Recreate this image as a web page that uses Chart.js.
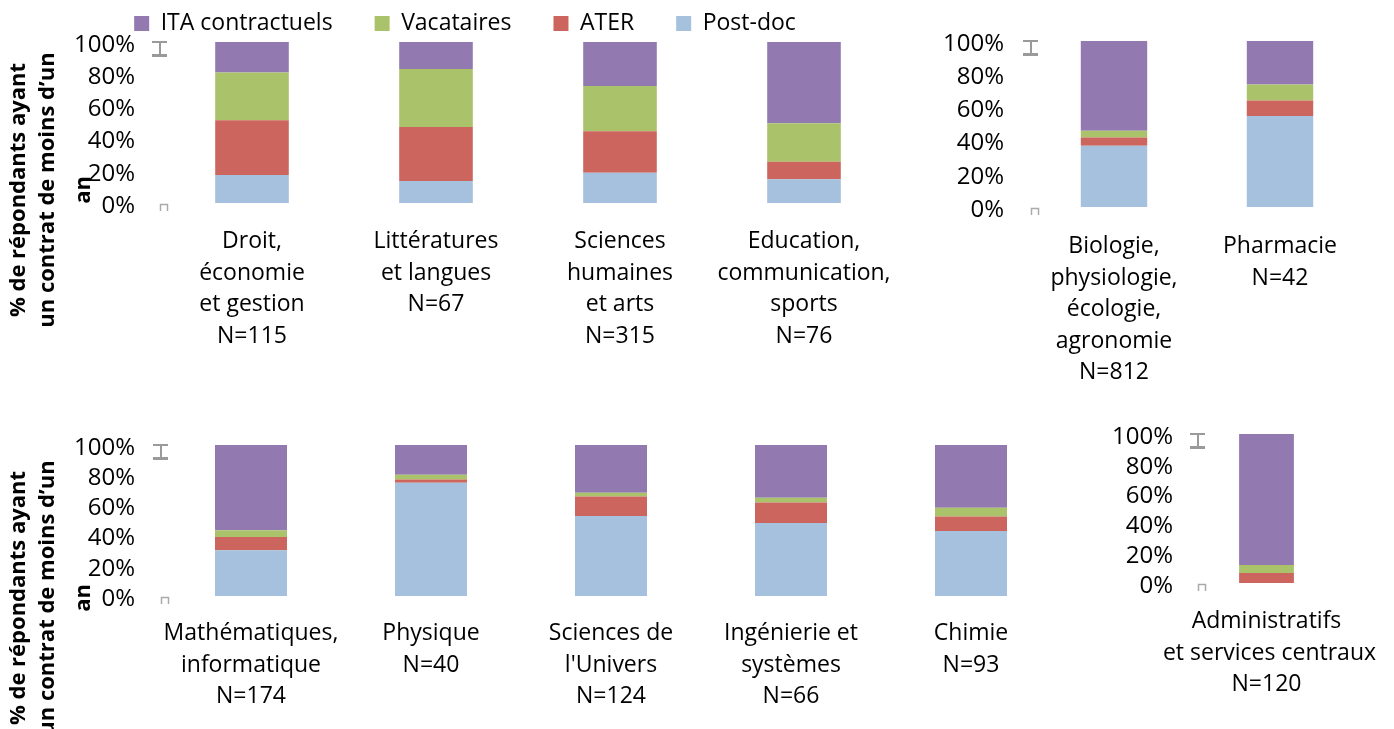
<!DOCTYPE html>
<html>
<head>
<meta charset="utf-8">
<script src="https://cdn.jsdelivr.net/npm/chart.js@4.4.0/dist/chart.umd.min.js"></script>
<style>
html, body { margin: 0; padding: 0; width: 1394px; height: 729px; overflow: hidden; background: #fff; }
canvas { position: absolute; }
</style>
</head>
<body>
<canvas id="chartA" width="912" height="433" style="left:0;top:-30px"></canvas>
<canvas id="chartC" width="482" height="397" style="left:912px;top:0"></canvas>
<canvas id="chartB" width="1065" height="336" style="left:0;top:420px"></canvas>
<canvas id="chartD" width="329" height="313" style="left:1065px;top:420px"></canvas>
<script>
// series, stacked bottom to top
const seriesNames = ['Post-doc', 'ATER', 'Vacataires', 'ITA contractuels'];
const yTicks = [0, 20, 40, 60, 80, 100];

// top left panel
const catsA = [['Droit,', 'économie', 'et gestion', 'N=115'], ['Littératures', 'et langues', 'N=67'],
    ['Sciences', 'humaines', 'et arts', 'N=315'], ['Education,', 'communication,', 'sports', 'N=76']];
const postdocA = [17.4, 13.7, 18.8, 14.7];
const aterA = [34.0, 33.5, 25.7, 10.9];
const vacA = [29.6, 36.0, 28.1, 24.0];
const itaA = [19.0, 16.8, 27.4, 50.4];

// top right panel
const catsC = [['Biologie,', 'physiologie,', 'écologie,', 'agronomie', 'N=812'], ['Pharmacie', 'N=42']];
const postdocC = [36.9, 54.8];
const aterC = [5.0, 9.4];
const vacC = [4.0, 9.6];
const itaC = [54.1, 26.2];

// bottom left panel
const catsB = [['Mathématiques,', 'informatique', 'N=174'], ['Physique', 'N=40'], ['Sciences de', "l'Univers", 'N=124'],
    ['Ingénierie et', 'systèmes', 'N=66'], ['Chimie', 'N=93']];
const postdocB = [30.3, 75.0, 52.9, 48.4, 43.1];
const aterB = [8.8, 2.2, 13.0, 13.5, 9.5];
const vacB = [4.4, 3.1, 2.4, 3.1, 5.8];
const itaB = [56.5, 19.7, 31.7, 35.0, 41.6];

// bottom right panel
const catsD = [['Administratifs', ' et services centraux', 'N=120']];
const postdocD = [0];
const aterD = [6.7];
const vacD = [5.4];
const itaD = [87.9];

const yTitleLines = ['% de répondants ayant', 'un contrat de moins d’un', 'an'];

const seriesColors = ['#A6C1DD', '#CC655D', '#AAC26A', '#9279B0'];
const FONT = "'Open Sans', sans-serif";
Chart.defaults.font.family = FONT;
Chart.defaults.color = '#000';

// the little grey marks Excel left next to the axis
const axisMarks = {
    id: 'axisMarks',
    afterDraw(chart) {
        const ctx = chart.ctx;
        const x0 = Math.round(chart.chartArea.left);
        const yTop = Math.round(chart.scales.y.getPixelForValue(100));
        const yBot = Math.round(chart.scales.y.getPixelForValue(0));
        ctx.save();
        ctx.fillStyle = '#9a9a9a';
        ctx.fillRect(x0 - 8, yTop - 1, 15, 2);
        ctx.fillRect(x0 - 1, yTop + 1, 2, 11);
        ctx.fillRect(x0 - 8, yTop + 12, 15, 3);
        ctx.strokeStyle = '#aaaaaa';
        ctx.lineWidth = 1.5;
        ctx.beginPath();
        ctx.moveTo(x0 + 0.5, yBot + 8);
        ctx.lineTo(x0 + 0.5, yBot + 1.5);
        ctx.lineTo(x0 + 7.5, yBot + 1.5);
        ctx.lineTo(x0 + 7.5, yBot + 8);
        ctx.stroke();
        ctx.restore();
    }
};

// rotated y title, placed like in the original (not centered on the plot)
const yTitlePlugin = {
    id: 'yTitle',
    afterDraw(chart, args, opts) {
        const ctx = chart.ctx;
        ctx.save();
        ctx.font = 'bold 22px ' + FONT;
        ctx.fillStyle = '#000';
        ctx.textAlign = 'center';
        ctx.textBaseline = 'middle';
        yTitleLines.forEach((line, i) => {
            ctx.save();
            ctx.translate(opts.x[i], opts.y);
            ctx.rotate(-Math.PI / 2);
            ctx.fillText(line, 0, 0);
            ctx.restore();
        });
        ctx.restore();
    }
};

function makeChart(id, cats, values, cfg) {
    const datasets = values.map((v, i) => ({
        label: seriesNames[i],
        data: v,
        backgroundColor: seriesColors[i],
        borderWidth: 0,
        categoryPercentage: 1,
        barPercentage: 0.4
    }));
    return new Chart(document.getElementById(id), {
        type: 'bar',
        data: { labels: cats, datasets: datasets },
        options: {
            responsive: false,
            animation: false,
            devicePixelRatio: 1,
            layout: { padding: cfg.padding },
            plugins: {
                legend: cfg.legend ? {
                    position: 'top',
                    reverse: true,
                    maxHeight: cfg.legendHeight,
                    labels: { boxWidth: 15, boxHeight: 15, padding: 42, color: '#000', font: { size: 23 } }
                } : { display: false },
                tooltip: { enabled: false },
                yTitle: cfg.yTitle || false
            },
            scales: {
                x: {
                    stacked: true,
                    grid: { display: false, drawTicks: false },
                    border: { display: false },
                    ticks: { padding: cfg.xPad, maxRotation: 0, minRotation: 0, autoSkip: false, color: '#000', font: { size: 23, lineHeight: 1.37 } },
                    afterFit: s => { s.height = cfg.xHeight; s.paddingLeft = 0; s.paddingRight = 0; }
                },
                y: {
                    stacked: true,
                    min: 0,
                    max: 100,
                    grid: { display: false, drawTicks: false },
                    border: { display: false },
                    afterBuildTicks: s => { s.ticks = yTicks.map(v => ({ value: v })); },
                    ticks: { padding: cfg.yPad, autoSkip: false, labelOffset: 3, color: '#000', font: { size: 24 }, callback: v => v + '%' },
                    afterFit: s => { s.width = cfg.yWidth; s.paddingTop = 0; s.paddingBottom = 0; }
                }
            }
        },
        plugins: [axisMarks, yTitlePlugin]
    });
}

makeChart('chartA', catsA, [postdocA, aterA, vacA, itaA], {
    padding: { left: 34, right: 16, top: 0, bottom: 0 },
    legend: true, legendHeight: 72,
    yWidth: 126, yPad: 25, xPad: 23, xHeight: 200,
    yTitle: { x: [19, 48, 84], y: 220 }
});
makeChart('chartC', catsC, [postdocC, aterC, vacC, itaC], {
    padding: { left: 0, right: 31, top: 41, bottom: 0 },
    yWidth: 119, yPad: 27, xPad: 24, xHeight: 190
});
makeChart('chartB', catsB, [postdocB, aterB, vacB, itaB], {
    padding: { left: 0, right: 4, top: 25, bottom: 0 },
    yWidth: 161, yPad: 26, xPad: 22, xHeight: 160,
    yTitle: { x: [19, 48, 84], y: 178 }
});
makeChart('chartD', catsD, [postdocD, aterD, vacD, itaD], {
    padding: { left: 0, right: 59, top: 14, bottom: 0 },
    yWidth: 133, yPad: 25, xPad: 23, xHeight: 150
});
</script>
</body>
</html>
